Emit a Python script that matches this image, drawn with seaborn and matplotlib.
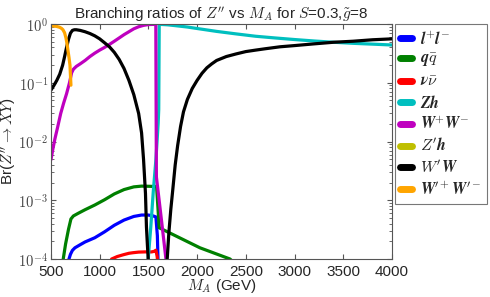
import numpy as np
import matplotlib
matplotlib.use("Agg")
import matplotlib.pyplot as plt
import seaborn as sns
from matplotlib.ticker import FuncFormatter, LogLocator, MultipleLocator

# branching ratios (M_A in GeV)
ll_M = [670, 685, 700, 720, 746, 800, 850, 950, 1050, 1150, 1250, 1350, 1430, 1500, 1550, 1577, 1592, 1600]
ll_br = [5e-5, 1e-4, 1.2e-4, 1.4e-4, 1.55e-4, 1.75e-4, 1.95e-4, 2.3e-4, 2.9e-4, 3.75e-4, 4.6e-4, 5.3e-4,
         5.6e-4, 5.6e-4, 5.4e-4, 5.2e-4, 2.5e-4, 8e-5]

qq_M = [615, 626, 650, 680, 705, 730, 780, 850, 950, 1050, 1150, 1250, 1350, 1430, 1500, 1550, 1584, 1611,
        2029, 2337, 2400]
qq_br = [5e-5, 1e-4, 1.8e-4, 3.2e-4, 4.8e-4, 5.4e-4, 6.0e-4, 6.9e-4, 8.3e-4, 1.02e-3, 1.28e-3, 1.52e-3,
         1.69e-3, 1.74e-3, 1.73e-3, 1.72e-3, 1.72e-3, 3.4e-4, 1.55e-4, 1e-4, 8e-5]

nn_M = [1100, 1123, 1180, 1242, 1300, 1344, 1400, 1464, 1533, 1560, 1577, 1590, 1600]
nn_br = [8e-5, 1e-4, 1.1e-4, 1.18e-4, 1.25e-4, 1.28e-4, 1.31e-4, 1.32e-4, 1.32e-4, 1.35e-4, 1.41e-4, 1.1e-4, 7e-5]

zh_M = [1490, 1498, 1525, 1550, 1577, 1600, 1606, 1611, 1700, 1800, 1900, 2000, 2200, 2400, 2600, 2800,
        3000, 3200, 3400, 3600, 3800, 4000]
zh_br = [1e-5, 1e-4, 3.6e-4, 1.4e-3, 4.9e-3, 0.02, 0.035, 0.99, 0.97, 0.93, 0.89, 0.84, 0.75, 0.68, 0.62,
         0.58, 0.545, 0.515, 0.49, 0.47, 0.455, 0.44]

ww_M = [500, 520, 540, 570, 600, 630, 660, 690, 712, 730, 760, 800, 850, 900, 950, 1000, 1050, 1100, 1150,
        1200, 1250, 1300, 1350, 1400, 1450, 1500, 1576, 1582, 1634, 1680, 1700]
ww_br = [0.0049, 0.0075, 0.011, 0.018, 0.03, 0.045, 0.065, 0.1, 0.148, 0.17, 0.19, 0.21, 0.24, 0.28, 0.32,
         0.36, 0.4, 0.45, 0.51, 0.58, 0.66, 0.74, 0.83, 0.9, 0.95, 0.98, 0.99, 2.5e-3, 4.6e-4, 1e-4, 3e-5]

# Z'h stays below the plotted range
zph_M = []
zph_br = []

wpw_M = [500, 530, 560, 590, 620, 640, 660, 680, 700, 720, 740, 760, 800, 850, 900, 950, 1000, 1050, 1100,
         1150, 1200, 1250, 1300, 1350, 1400, 1430, 1450, 1470, 1480, 1490, 1498, 1510,
         1680, 1693, 1710, 1730, 1750, 1775, 1800, 1830, 1860, 1900, 1950, 2000, 2050, 2100, 2150, 2200,
         2300, 2400, 2500, 2600, 2700, 2850, 3000, 3200, 3400, 3600, 3800, 4000]
wpw_br = [0.075, 0.09, 0.11, 0.14, 0.2, 0.28, 0.4, 0.55, 0.7, 0.78, 0.8, 0.8, 0.78, 0.74, 0.69, 0.63, 0.56,
          0.48, 0.41, 0.33, 0.25, 0.175, 0.11, 0.063, 0.03, 0.014, 0.005, 0.0013, 3.5e-4, 1.7e-4, 1e-4, 1e-5,
          1e-5, 1e-4, 2.8e-4, 7e-4, 1.5e-3, 4e-3, 8.5e-3, 0.018, 0.032, 0.052, 0.08, 0.11, 0.145, 0.18,
          0.21, 0.24, 0.28, 0.31, 0.34, 0.36, 0.38, 0.41, 0.43, 0.46, 0.49, 0.51, 0.54, 0.56]

wpwp_M = [500, 530, 560, 590, 610, 623, 640, 654, 665, 674, 685, 695, 705]
wpwp_br = [0.93, 0.925, 0.91, 0.88, 0.84, 0.8, 0.71, 0.58, 0.46, 0.36, 0.27, 0.2, 0.091]

sns.set_style("ticks")
plt.rcParams["font.family"] = ["Liberation Sans", "DejaVu Sans"]
plt.rcParams["mathtext.fontset"] = "cm"

fig = plt.figure(figsize=(4.9, 2.97), dpi=100)
ax = fig.add_axes([0.104, 0.128, 0.696, 0.791])

series = [
    (ll_M, ll_br, "#0000ff", r"$\boldsymbol{l}^{\boldsymbol{+}}\boldsymbol{l}^{\boldsymbol{-}}$"),
    (qq_M, qq_br, "#008000", r"$\boldsymbol{q\bar{q}}$"),
    (nn_M, nn_br, "#ff0000", r"$\boldsymbol{\nu\bar{\nu}}$"),
    (zh_M, zh_br, "#00bfbf", r"$\boldsymbol{Zh}$"),
    (ww_M, ww_br, "#bf00bf", r"$\boldsymbol{W}^{\boldsymbol{+}}\boldsymbol{W}^{\boldsymbol{-}}$"),
    (zph_M, zph_br, "#bfbf00", r"$\boldsymbol{Z'h}$"),
    (wpw_M, wpw_br, "#000000", r"$\boldsymbol{W'W}$"),
    (wpwp_M, wpwp_br, "#ffa500",
     r"$\boldsymbol{W}^{\boldsymbol{\prime +}}\boldsymbol{W}^{\boldsymbol{\prime -}}$"),
]

for m, br, col, lab in series:
    if len(m) == 0:
        ax.plot([], [], color=col, lw=2.3, label=lab)
        continue
    sns.lineplot(x=m, y=br, color=col, lw=2.3, label=lab, sort=False, estimator=None, ax=ax)

ax.set_yscale("log")
ax.set_xlim(500, 4000)
ax.set_ylim(1e-4, 1)
ax.xaxis.set_major_locator(MultipleLocator(500))
ax.yaxis.set_major_locator(LogLocator(base=10))
ax.yaxis.set_major_formatter(FuncFormatter(lambda v, p: r"$10^{%d}$" % round(np.log10(v))))
ax.tick_params(direction="in", top=True, right=True, which="both", color="#555555")
ax.tick_params(axis="x", labelsize=11, pad=4)
ax.tick_params(axis="y", labelsize=10.5, pad=2, labelcolor="#444444")
for s in ax.spines.values():
    s.set_color("#555555")
    s.set_linewidth(0.8)

ax.set_title(r"Branching ratios of $Z''$ vs $M_A$ for $S$=0.3,$\tilde{g}$=8", fontsize=11, pad=4)
ax.set_xlabel(r"$M_A$ (GeV)", fontsize=11, labelpad=-1)
ax.set_ylabel(r"Br($Z''\rightarrow XY$)", fontsize=11)
ax.yaxis.set_label_coords(-0.097, 0.5)

leg = ax.legend(loc="upper left", bbox_to_anchor=(1.008, 1.0), borderaxespad=0, fontsize=11.5,
                handlelength=0.75, handletextpad=0.5, labelspacing=0.3, frameon=True, fancybox=False,
                borderpad=0.35)
leg.get_frame().set_edgecolor("#555555")
leg.get_frame().set_linewidth(0.8)
for h in leg.get_lines():
    h.set_linewidth(5)

fig.savefig("out.png", dpi=100)
